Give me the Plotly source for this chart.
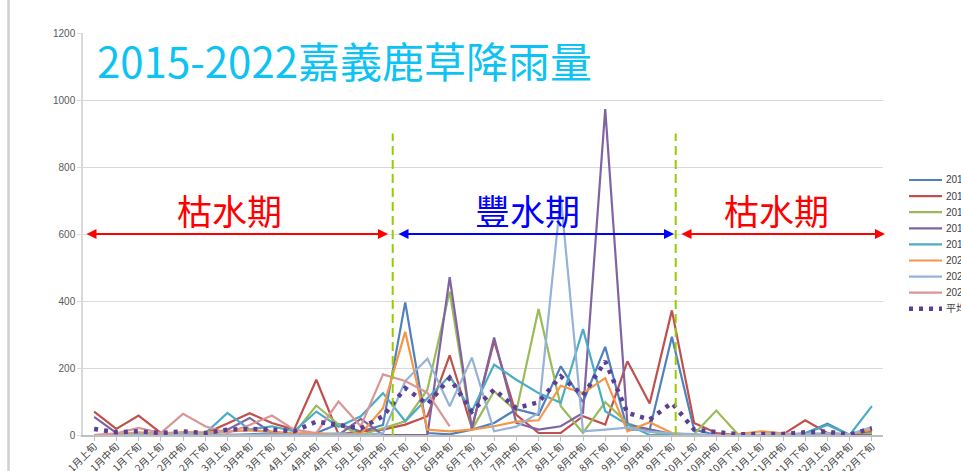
import plotly.graph_objects as go

# ---------------- data ----------------
categories = ["1月上旬", "1月中旬", "1月下旬", "2月上旬", "2月中旬", "2月下旬",
              "3月上旬", "3月中旬", "3月下旬", "4月上旬", "4月中旬", "4月下旬",
              "5月上旬", "5月中旬", "5月下旬", "6月上旬", "6月中旬", "6月下旬",
              "7月上旬", "7月中旬", "7月下旬", "8月上旬", "8月中旬", "8月下旬",
              "9月上旬", "9月中旬", "9月下旬", "10月上旬", "10月中旬", "10月下旬",
              "11月上旬", "11月中旬", "11月下旬", "12月上旬", "12月中旬", "12月下旬"]

y2015 = [0, 0, 2, 0, 5, 3, 0, 2, 5, 3, 6, 33, 10, 30, 396, 6, 2, 16, 36, 77, 60, 205, 98, 263,
         16, 16, 293, 16, 0, 0, 0, 0, 5, 34, 0, 8]
y2016 = [70, 18, 58, 6, 2, 5, 34, 65, 36, 16, 165, 2, 11, 16, 31, 56, 238, 21, 281, 60, 6, 6, 56, 31,
         220, 94, 372, 36, 6, 0, 0, 2, 44, 6, 1, 14]
y2017 = [0, 0, 0, 0, 0, 0, 0, 0, 0, 5, 88, 31, 0, 20, 41, 136, 428, 16, 131, 71, 376, 86, 6, 98,
         36, 10, 0, 3, 73, 0, 0, 0, 0, 0, 0, 5]
y2018 = [54, 6, 2, 0, 0, 0, 16, 51, 6, 0, 0, 0, 48, 0, 0, 0, 471, 18, 291, 36, 16, 26, 66, 973,
         31, 16, 3, 0, 0, 0, 0, 0, 0, 0, 0, 0]
y2019 = [0, 0, 0, 0, 0, 5, 66, 16, 26, 11, 70, 25, 56, 125, 41, 110, 176, 71, 210, 165, 125, 96, 316, 71,
         31, 0, 0, 0, 0, 0, 0, 0, 5, 30, 0, 86]
y2020 = [0, 2, 8, 5, 9, 8, 11, 14, 10, 5, 5, 5, 3, 80, 308, 16, 11, 16, 26, 40, 44, 147, 125, 170,
         11, 38, 6, 0, 0, 3, 11, 5, 3, 5, 3, 16]
y2021 = [0, 0, 3, 2, 4, 2, 0, 0, 2, 0, 0, 5, 0, 5, 161, 228, 86, 231, 11, 25, 66, 712, 11, 16,
         22, 10, 5, 3, 0, 0, 0, 2, 3, 5, 2, 24]
y2022 = [0, 5, 21, 6, 63, 26, 6, 30, 58, 16, 6, 100, 26, 181, 161, 126, 26,
         None, None, None, None, None, None, None, None, None, None, None, None, None,
         None, None, None, None, None, None]
y_avg = [18, 8, 11, 6, 11, 6, 16, 18, 16, 11, 40, 30, 20, 56, 140, 92, 170, 70, 136, 80, 98, 175, 118, 220,
         66, 46, 96, 16, 10, 2, 3, 3, 8, 10, 1, 20]

series_names = ["2015", "2016", "2017", "2018", "2019", "2020", "2021", "2022", "平均"]
series_values = [y2015, y2016, y2017, y2018, y2019, y2020, y2021, y2022, y_avg]
series_colors = ["#4F81BD", "#C0504D", "#9BBB59", "#8064A2", "#4BACC6",
                 "#F79646", "#95B3D7", "#D99694", "#5B3F94"]

y_ticks = [0, 200, 400, 600, 800, 1000, 1200]

title_text = "2015-2022嘉義鹿草降雨量"
period_dry = "枯水期"
period_wet = "豐水期"

# ---------------- layout constants ----------------
W, H = 961, 471
ML, MR, MT, MB = 83, 78, 33, 36
PW = W - ML - MR
PH = H - MT - MB
CJK = "Noto Sans CJK TC"


def px_x(px):
    return (px - ML) / PW


def px_y(py):
    return (H - MB - py) / PH


fig = go.Figure()
for name, vals, col in zip(series_names, series_values, series_colors):
    if name == "平均":
        line = dict(color=col, width=4.5, dash="4px,6px")
    else:
        line = dict(color=col, width=2.2)
    fig.add_trace(go.Scatter(x=categories, y=vals, name=name, mode="lines",
                             line=line, showlegend=False, connectgaps=False))

shapes = []
annotations = []

# green dashed period boundaries
for xd in (px_x(392.7), px_x(675.7)):
    shapes.append(dict(type="line", xref="x domain", yref="y", x0=xd, x1=xd, y0=0, y1=900,
                       line=dict(color="#99CC00", width=2, dash="9px,5px")))

# left chart frame line
shapes.append(dict(type="line", xref="paper", yref="paper", x0=px_x(8.5), x1=px_x(8.5),
                   y0=-0.2, y1=1.2, line=dict(color="#D0D0D0", width=2.5)))

# double arrows
arrow_y = 600
for (x0, x1, col) in ((85, 388, "#FF0000"), (397, 674, "#0000FF"), (680, 885, "#FF0000")):
    annotations.append(dict(xref="x domain", yref="y", axref="x domain", ayref="y",
                            x=px_x(x1), y=arrow_y, ax=px_x(x0), ay=arrow_y, text="",
                            showarrow=True, arrowside="end+start", arrowhead=2, startarrowhead=2,
                            arrowsize=1, startarrowsize=1, arrowwidth=2, arrowcolor=col))

# period labels
for (cx, txt, col) in ((229, period_dry, "#FF0000"), (527.5, period_wet, "#0000FF"),
                       (776, period_dry, "#FF0000")):
    annotations.append(dict(xref="x domain", yref="y", x=px_x(cx), y=672, text=txt,
                            showarrow=False, xanchor="center", yanchor="middle",
                            font=dict(family=CJK, size=35, color=col)))

# title
annotations.append(dict(xref="x domain", yref="paper", x=px_x(95), y=px_y(59), text=title_text,
                        showarrow=False, xanchor="left", yanchor="middle",
                        font=dict(family=CJK, size=42, color="#0DC3F3")))

# manual legend
for i, (name, col) in enumerate(zip(series_names, series_colors)):
    yy = px_y(180 + 16.1 * i)
    if name == "平均":
        ln = dict(color=col, width=4.5, dash="4px,6px")
    else:
        ln = dict(color=col, width=2.2)
    shapes.append(dict(type="line", xref="paper", yref="paper", x0=px_x(909), x1=px_x(942),
                       y0=yy, y1=yy, line=ln))
    annotations.append(dict(xref="paper", yref="paper", x=px_x(944), y=yy, text=name,
                            showarrow=False, xanchor="left", yanchor="middle",
                            font=dict(family="Liberation Sans, " + CJK, size=10, color="#404040")))

fig.update_layout(
    width=W, height=H,
    margin=dict(l=ML, r=MR, t=MT, b=MB, pad=0, autoexpand=False),
    paper_bgcolor="white", plot_bgcolor="white",
    showlegend=False,
    shapes=shapes, annotations=annotations,
    font=dict(family="Liberation Sans, " + CJK),
)
fig.update_xaxes(type="category", range=[-0.5, len(categories) - 0.5], tickangle=-45,
                 tickfont=dict(family=CJK, size=10, color="#404040"),
                 showline=True, linecolor="#BFBFBF", linewidth=1.5,
                 ticks="outside", ticklen=4, tickcolor="#BFBFBF", ticklabelstandoff=-4,
                 showgrid=False, zeroline=False)
fig.update_yaxes(range=[0, 1200], tickvals=y_ticks, ticktext=[str(v) for v in y_ticks],
                 tickfont=dict(family="Liberation Sans", size=10, color="#595959"),
                 showline=True, linecolor="#D9D9D9", linewidth=1.5,
                 ticks="outside", ticklen=4, tickcolor="#D9D9D9",
                 showgrid=True, gridcolor="#D9D9D9", gridwidth=1.2, zeroline=False)

fig.write_html("out.html", config={"displayModeBar": False},
               post_script="document.body.style.margin='0px';document.body.style.overflow='hidden';")
